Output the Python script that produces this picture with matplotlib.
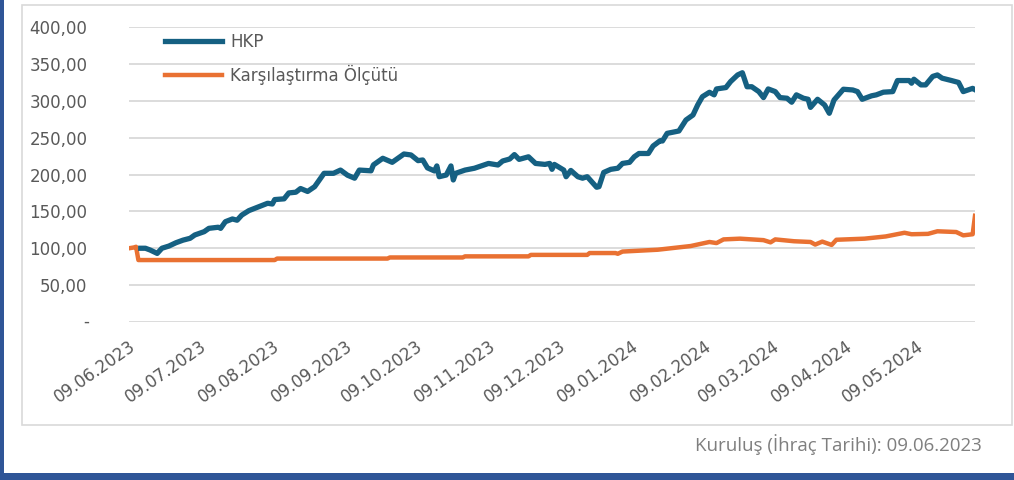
import numpy as np
import pandas as pd
import matplotlib
matplotlib.use("Agg")
import matplotlib.pyplot as plt
import matplotlib.dates as mdates
import matplotlib.transforms as mtransforms
from matplotlib.ticker import FuncFormatter
from matplotlib.patches import Rectangle

# HKP fund index
hkp_dates = [
    "2023-06-14", "2023-06-16", "2023-06-18", "2023-06-21", "2023-06-23", "2023-06-26", "2023-06-29",
    "2023-07-02", "2023-07-05", "2023-07-07", "2023-07-11", "2023-07-13", "2023-07-17", "2023-07-18",
    "2023-07-20", "2023-07-23", "2023-07-25", "2023-07-27", "2023-07-30", "2023-08-03", "2023-08-07",
    "2023-08-09", "2023-08-10", "2023-08-14", "2023-08-16", "2023-08-19", "2023-08-21", "2023-08-24",
    "2023-08-27", "2023-08-31", "2023-09-04", "2023-09-07", "2023-09-10", "2023-09-13", "2023-09-15",
    "2023-09-20", "2023-09-21", "2023-09-25", "2023-09-29", "2023-10-04", "2023-10-07", "2023-10-10",
    "2023-10-12", "2023-10-14", "2023-10-17", "2023-10-18", "2023-10-19", "2023-10-22", "2023-10-24",
    "2023-10-25", "2023-10-26", "2023-10-30", "2023-11-03", "2023-11-07", "2023-11-09", "2023-11-13",
    "2023-11-15", "2023-11-18", "2023-11-20", "2023-11-22", "2023-11-26", "2023-11-29", "2023-12-03",
    "2023-12-05", "2023-12-06", "2023-12-07", "2023-12-11", "2023-12-12", "2023-12-14", "2023-12-17",
    "2023-12-19", "2023-12-21", "2023-12-25", "2023-12-26", "2023-12-28", "2023-12-31", "2024-01-03",
    "2024-01-05", "2024-01-08", "2024-01-10", "2024-01-12", "2024-01-16", "2024-01-18", "2024-01-21",
    "2024-01-22", "2024-01-24", "2024-01-29", "2024-02-01", "2024-02-04", "2024-02-06", "2024-02-08",
    "2024-02-11", "2024-02-13", "2024-02-14", "2024-02-18", "2024-02-20", "2024-02-23", "2024-02-25",
    "2024-02-27", "2024-02-29", "2024-03-03", "2024-03-05", "2024-03-07", "2024-03-10", "2024-03-12",
    "2024-03-15", "2024-03-17", "2024-03-19", "2024-03-22", "2024-03-24", "2024-03-25", "2024-03-28",
    "2024-03-31", "2024-04-02", "2024-04-04", "2024-04-08", "2024-04-12", "2024-04-14", "2024-04-16",
    "2024-04-20", "2024-04-22", "2024-04-25", "2024-04-29", "2024-05-01", "2024-05-06", "2024-05-07",
    "2024-05-08", "2024-05-11", "2024-05-13", "2024-05-16", "2024-05-18", "2024-05-20", "2024-05-24",
    "2024-05-27", "2024-05-29", "2024-05-31", "2024-06-02", "2024-06-03",
]
hkp_values = [
    100, 100, 97.6, 93, 100, 103, 107.5,
    111, 113.5, 118, 122.5, 127, 128.5, 127,
    136, 139.7, 138, 145, 151, 156, 161,
    160, 166, 167, 175, 176, 181, 177,
    183.5, 201.6, 201.6, 206, 199, 195, 206,
    205, 213, 222, 216.5, 227.8, 226.5, 218.8,
    219.7, 209, 204.8, 211.6, 197, 199.3, 211.6,
    192.6, 201.6, 206, 208.5, 212.9, 215, 212.9,
    218.3, 221, 227, 220.5, 224, 215, 213.7,
    215, 207, 213.7, 206, 197, 205.5, 197,
    195, 197, 182.7, 183.5, 202.8, 207, 208.5,
    215, 216.5, 224, 228.5, 228.5, 238.6, 245.8,
    245.4, 255.8, 259, 273.9, 280.7, 294.3, 305.5,
    311.5, 308, 316, 317.9, 326, 335, 338,
    319, 319, 312.4, 304.3, 316, 312.4, 304.3,
    303.4, 298, 308, 303.4, 302, 291, 302,
    294.3, 283, 301, 315.6, 314.6, 312.4, 302,
    306.7, 308, 311.6, 312.4, 327.4, 327.4, 323.8,
    329.2, 321.5, 321.5, 333, 335, 330.6, 327.4,
    324.8, 312.4, 314.6, 316.8, 315,
]

# Karşılaştırma Ölçütü (benchmark)
bench_dates = [
    "2023-06-09", "2023-06-11", "2023-06-12", "2023-06-13", "2023-08-10", "2023-08-11",
    "2023-09-27", "2023-09-28", "2023-10-29", "2023-10-30", "2023-11-26", "2023-11-27",
    "2023-12-21", "2023-12-22", "2024-01-02", "2024-01-03", "2024-01-05", "2024-01-08",
    "2024-01-20", "2024-01-27", "2024-02-03", "2024-02-11", "2024-02-14", "2024-02-17",
    "2024-02-24", "2024-03-05", "2024-03-08", "2024-03-10", "2024-03-18", "2024-03-25",
    "2024-03-27", "2024-03-30", "2024-04-03", "2024-04-05", "2024-04-17", "2024-04-26",
    "2024-05-04", "2024-05-07", "2024-05-14", "2024-05-18", "2024-05-26", "2024-05-29",
    "2024-06-02", "2024-06-03",
]
bench_values = [
    100, 101, 102, 84, 84, 86,
    86, 87.5, 87.5, 89, 89, 91,
    91, 93.5, 93.5, 92.5, 95.5, 96,
    98, 100.5, 103, 108.5, 107, 112,
    113, 111, 108, 112, 109.5, 108.5,
    105, 109, 104.5, 111.5, 113, 116,
    121, 119, 119.5, 123, 122, 117.5,
    119, 144,
]

tick_dates = ["2023-06-09", "2023-07-09", "2023-08-09", "2023-09-09", "2023-10-09", "2023-11-09",
              "2023-12-09", "2024-01-09", "2024-02-09", "2024-03-09", "2024-04-09", "2024-05-09"]
y_ticks = [0, 50, 100, 150, 200, 250, 300, 350, 400]

hkp_col = "#156082"
bench_col = "#E97132"
txt_col = "#595959"

fig = plt.figure(figsize=(10.14, 4.8), dpi=100)

# outer decorations
fig.patches.append(Rectangle((22 / 1014, 1 - 425 / 480), 990 / 1014, 420 / 480,
                             transform=fig.transFigure, fill=False, edgecolor="#D9D9D9", lw=1.2))
fig.patches.append(Rectangle((0, 0), 4 / 1014, 1, transform=fig.transFigure,
                             color="#2F5597", lw=0))
fig.patches.append(Rectangle((0, 0), 1, 7 / 480, transform=fig.transFigure,
                             color="#2F5597", lw=0))

ax = fig.add_axes([129 / 1014, 1 - 322 / 480, 846 / 1014, 295 / 480])

ax.plot(pd.to_datetime(bench_dates), bench_values, color=bench_col, lw=3.2,
        solid_joinstyle="round", label="Karşılaştırma Ölçütü", zorder=3)
ax.plot(pd.to_datetime(hkp_dates), hkp_values, color=hkp_col, lw=3.8,
        solid_joinstyle="round", label="HKP", zorder=4)

ax.set_ylim(0, 400)
ax.set_xlim(pd.Timestamp("2023-06-09"), pd.Timestamp("2024-06-03"))
ax.set_yticks(y_ticks)
ax.yaxis.set_major_formatter(FuncFormatter(
    lambda v, p: "" if v == 0 else f"{v:,.2f}".replace(".", ",")))
ax.set_xticks(pd.to_datetime(tick_dates))
ax.xaxis.set_major_formatter(mdates.DateFormatter("%d.%m.%Y"))

# zero shown as a dash (accounting format), slightly left of the number column
trans = mtransforms.blended_transform_factory(ax.transAxes, ax.transData)
ax.text(-40 / 846, 0, "-", ha="right", va="center", transform=trans,
        fontsize=12, color=txt_col)

ax.grid(axis="y", color="#D9D9D9", lw=1.3)
ax.set_axisbelow(True)
for s in ax.spines.values():
    s.set_visible(False)
ax.tick_params(axis="both", length=0, colors=txt_col, labelsize=12)
ax.tick_params(axis="y", pad=30)
ax.tick_params(axis="x", pad=11)
for lab in ax.get_xticklabels():
    lab.set_rotation(35)
    lab.set_ha("right")
    lab.set_va("top")
    lab.set_rotation_mode("anchor")

handles, labels = ax.get_legend_handles_labels()
leg = ax.legend(handles[::-1], labels[::-1], loc="upper left",
                bbox_to_anchor=(165 / 1014, 1 - 33 / 480), bbox_transform=fig.transFigure,
                frameon=False, fontsize=12, handlelength=3.4, handletextpad=0.5,
                labelspacing=0.85, borderpad=0, borderaxespad=0)
for t in leg.get_texts():
    t.set_color(txt_col)

fig.text(982 / 1014, 1 - 445 / 480, "Kuruluş (İhraç Tarihi): 09.06.2023",
         ha="right", va="center", fontsize=13.5, color="#7F7F7F", family="Open Sans")

fig.savefig("out.png", dpi=100)
